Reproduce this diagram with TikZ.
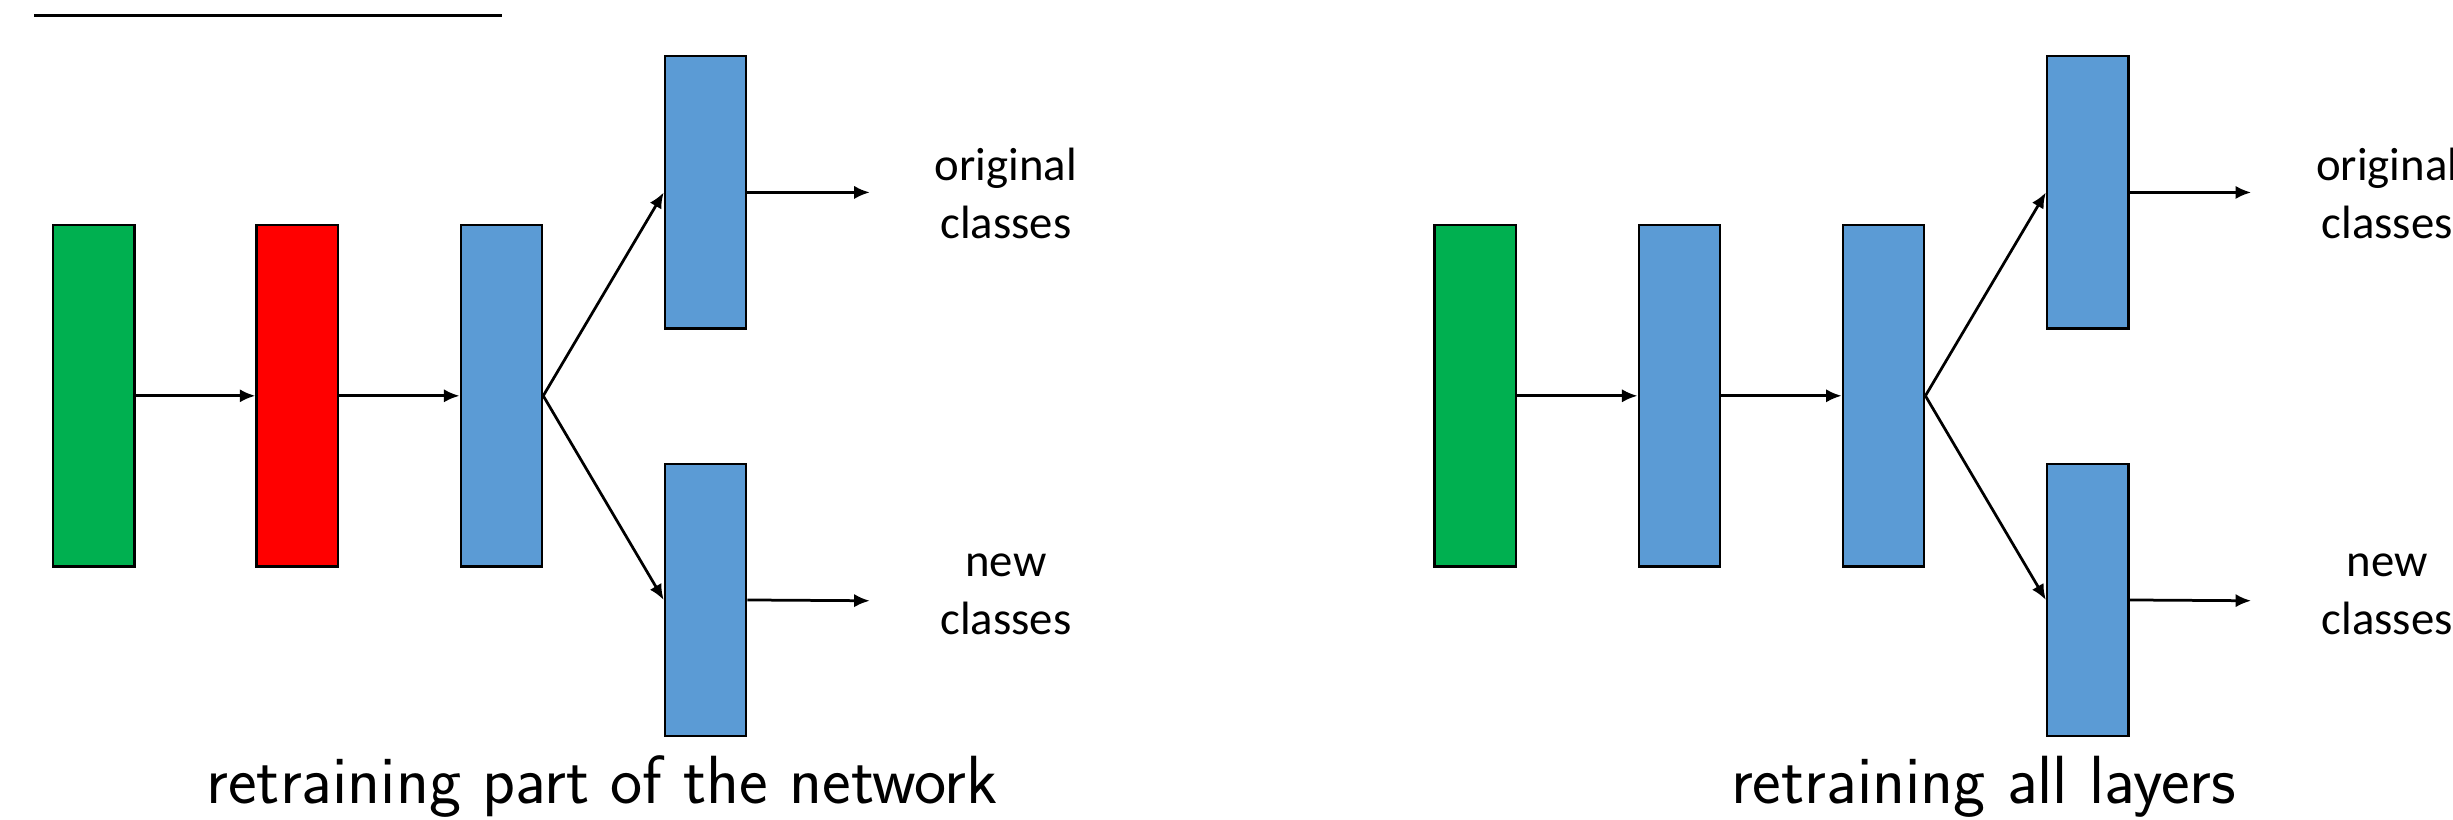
\documentclass[tikz,border=0pt]{standalone}
\usepackage{fontspec}
\usepackage{tikz}
\usetikzlibrary{arrows.meta}
\usetikzlibrary{positioning}
\newfontfamily\calib{Carlito}
\definecolor{lgreen}{HTML}{00B050}
\definecolor{lred}{HTML}{FF0000}
\definecolor{lblue}{HTML}{5B9BD5}
\tikzset{layer/.style = {draw, line width=0.85pt, inner sep=0pt,
                         minimum width=10.4mm, minimum height=43.6mm},
         head/.style = {layer, fill=lblue, minimum height=34.8mm},
         conn/.style = {-{Latex[length=2mm, width=1.7mm]}, line width=1pt},
         outlab/.style = {font=\calib\fontsize{17}{21}\selectfont, align=center},
         caption/.style = {font=\sffamily\fontsize{24.8}{29}\selectfont}}

\begin{document}
\begin{tikzpicture}[x=0.2mm, y=-0.2mm]
    \useasboundingbox (0, 0) rectangle (1568, 524);
    \coordinate (ulA) at (22, 10);
    \coordinate (ulB) at (321, 10);
    \draw [line width=1pt] (ulA) -- (ulB);

    % part of the network
    \node [layer, fill=lgreen] (inA) at (60, 253) {};
    \node [layer, fill=lred] (hidA) at (190, 253) {};
    \node [layer, fill=lblue] (midA) at (320.5, 253) {};
    \node [head] (topA) at (451, 123) {};
    \node [head] (botA) at (451, 383.5) {};
    \node [outlab] (origA) at (643, 123.5) {original\\classes};
    \node [outlab] (newA) at (643, 380) {new\\classes};
    \coordinate (origAend) at (556, 123);
    \coordinate (newAend) at (556, 384);

    \draw [conn] (inA) -- (hidA);
    \draw [conn] (hidA) -- (midA);
    \draw [conn] (midA.east) -- (topA.west);
    \draw [conn] (midA.east) -- (botA.west);
    \draw [conn] (topA.east) -- (origAend);
    \draw [conn] (botA.east) -- (newAend);
    \node [caption] (capA) at (385, 503) {retraining part of the network};

    % all layers
    \node [layer, fill=lgreen] (inB) at (943, 253) {};
    \node [layer, fill=lblue] (hidB) at (1073.5, 253) {};
    \node [layer, fill=lblue] (midB) at (1204, 253) {};
    \node [head] (topB) at (1334.5, 123) {};
    \node [head] (botB) at (1334.5, 383.5) {};
    \node [outlab] (origB) at (1526, 123.5) {original\\classes};
    \node [outlab] (newB) at (1526, 380) {new\\classes};
    \coordinate (origBend) at (1439, 123);
    \coordinate (newBend) at (1439, 384);

    \draw [conn] (inB) -- (hidB);
    \draw [conn] (hidB) -- (midB);
    \draw [conn] (midB.east) -- (topB.west);
    \draw [conn] (midB.east) -- (botB.west);
    \draw [conn] (topB.east) -- (origBend);
    \draw [conn] (botB.east) -- (newBend);
    \node [caption] (capB) at (1268, 503) {retraining all layers};
\end{tikzpicture}
\end{document}
